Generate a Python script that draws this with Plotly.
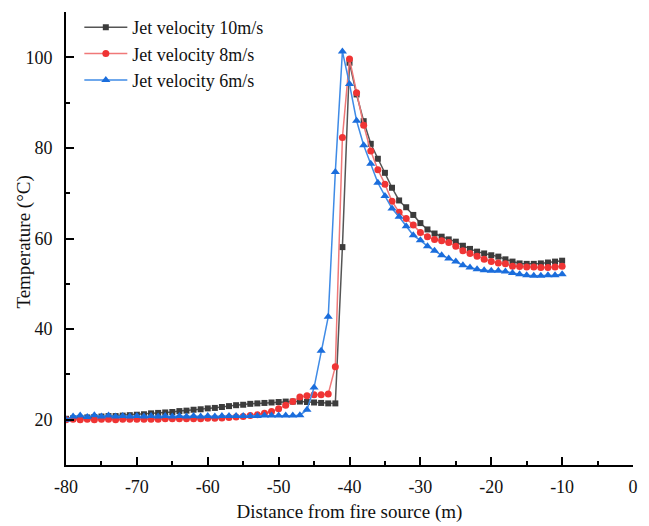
import plotly.graph_objects as go

distance = list(range(-80, -9))  # -80 .. -10, step 1 m

temp_10 = [
    20.2, 20.3, 20.4, 20.5, 20.6, 20.7, 20.8, 20.8, 20.9, 21.0,   # -80..-71
    21.1, 21.2, 21.4, 21.5, 21.6, 21.7, 21.9, 22.0, 22.2, 22.3,   # -70..-61
    22.5, 22.6, 22.8, 23.0, 23.2, 23.3, 23.5, 23.6, 23.7, 23.8,   # -60..-51
    23.9, 24.0, 24.0, 24.0, 23.9, 23.8, 23.7, 23.6, 23.6, 58.1,   # -50..-41
    98.8, 91.8, 85.9, 80.9, 77.6, 74.5, 71.2, 68.4, 66.9, 65.2,   # -40..-31
    63.4, 62.0, 61.1, 60.4, 59.8, 59.3, 58.4, 57.7, 57.1, 56.7,   # -30..-21
    56.3, 56.0, 55.4, 54.9, 54.5, 54.4, 54.4, 54.5, 54.7, 54.9,   # -20..-11
    55.1,                                                         # -10
]

temp_8 = [
    20.0, 20.1, 20.0, 20.1, 20.0, 20.1, 20.1, 20.0, 20.1, 20.1,   # -80..-71
    20.1, 20.1, 20.1, 20.1, 20.2, 20.2, 20.2, 20.2, 20.2, 20.2,   # -70..-61
    20.3, 20.3, 20.4, 20.5, 20.6, 20.7, 20.9, 21.1, 21.4, 21.8,   # -60..-51
    22.4, 23.2, 24.0, 25.0, 25.3, 25.5, 25.5, 25.7, 31.7, 82.3,   # -50..-41
    99.6, 92.2, 85.0, 79.3, 75.2, 72.0, 68.2, 65.8, 64.4, 63.0,   # -40..-31
    61.3, 60.4, 59.8, 59.5, 59.1, 58.3, 57.3, 56.7, 56.1, 55.4,   # -30..-21
    54.9, 54.6, 54.4, 53.9, 53.8, 53.7, 53.7, 53.6, 53.6, 53.7,   # -20..-11
    53.9,                                                         # -10
]

temp_6 = [
    20.0, 20.7, 20.9, 20.6, 21.0, 20.7, 20.9, 20.7, 20.8, 20.7,   # -80..-71
    20.8, 20.7, 20.8, 20.7, 20.8, 20.7, 20.8, 20.7, 20.8, 20.7,   # -70..-61
    20.8, 20.7, 20.8, 20.8, 20.8, 20.8, 20.8, 20.8, 20.9, 20.9,   # -60..-51
    20.9, 20.9, 20.9, 21.0, 22.2, 27.1, 35.2, 42.7, 74.7, 101.3,  # -50..-41
    94.1, 86.0, 80.6, 76.5, 72.3, 69.4, 66.6, 64.8, 62.7, 60.7,   # -40..-31
    59.6, 58.3, 57.3, 56.3, 55.6, 54.9, 54.1, 53.6, 53.2, 53.0,   # -30..-21
    52.9, 52.9, 52.7, 52.4, 52.1, 51.9, 51.8, 51.8, 51.9, 51.9,   # -20..-11
    52.1,                                                         # -10
]

series_names = ["Jet velocity 10m/s", "Jet velocity 8m/s", "Jet velocity 6m/s"]

x_tickvals = [-80, -70, -60, -50, -40, -30, -20, -10, 0]
x_ticktext = ["-80", "-70", "-60", "-50", "-40", "-30", "-20", "-10", "0"]
y_tickvals = [20, 40, 60, 80, 100]
y_ticktext = ["20", "40", "60", "80", "100"]

x_title = "Distance from fire source (m)"
y_title = "Temperature (°C)"

FONT = "Liberation Serif"

fig = go.Figure()
fig.add_trace(go.Scatter(
    x=distance, y=temp_10, name=series_names[0], mode="lines+markers",
    line=dict(color="#555555", width=1.5),
    marker=dict(symbol="square", size=6, color="#3c3c3c"),
))
fig.add_trace(go.Scatter(
    x=distance, y=temp_8, name=series_names[1], mode="lines+markers",
    line=dict(color="#f07878", width=1.5),
    marker=dict(symbol="circle", size=7, color="#ef3434"),
))
fig.add_trace(go.Scatter(
    x=distance, y=temp_6, name=series_names[2], mode="lines+markers",
    line=dict(color="#3f8be6", width=1.5),
    marker=dict(symbol="triangle-up", size=8, color="#1a6ddc"),
))

# The page body adds an 8px offset; the figure is sized to fit the window.
fig.update_layout(
    width=641, height=518,
    margin=dict(l=58, r=16, t=4, b=61, autoexpand=False),
    paper_bgcolor="white", plot_bgcolor="white",
    font=dict(family=FONT, size=18, color="#111111"),
    showlegend=True,
    legend=dict(
        x=0.0235, y=1.0066, xanchor="left", yanchor="top",
        font=dict(family=FONT, size=18, color="#111111"),
        bgcolor="rgba(0,0,0,0)", itemwidth=43,
    ),
    xaxis=dict(
        range=[-80, 0], tickvals=x_tickvals, ticktext=x_ticktext,
        automargin=False,
        showline=True, linecolor="black", linewidth=2,
        ticks="inside", ticklen=8, tickwidth=2, tickcolor="black",
        minor=dict(dtick=5, ticks="inside", ticklen=4, tickwidth=2, tickcolor="black"),
        showgrid=False, zeroline=False,
        tickfont=dict(family=FONT, size=18),
        ticklabelstandoff=4,
        title=dict(text=x_title, font=dict(family=FONT, size=19), standoff=9),
    ),
    yaxis=dict(
        range=[10, 110], tickvals=y_tickvals, ticktext=y_ticktext,
        automargin=False,
        showline=True, linecolor="black", linewidth=2,
        ticks="inside", ticklen=8, tickwidth=2, tickcolor="black",
        minor=dict(tickvals=[30, 50, 70, 90, 110], ticks="inside", ticklen=4, tickwidth=2, tickcolor="black"),
        showgrid=False, zeroline=False,
        tickfont=dict(family=FONT, size=18),
        ticklabelstandoff=8,
    ),
    annotations=[dict(
        text=y_title, textangle=-90, showarrow=False,
        xref="paper", yref="paper", x=-0.074, y=0.491,
        xanchor="center", yanchor="middle",
        font=dict(family=FONT, size=19, color="#111111"),
    )],
)

fig.write_html("out.html")
